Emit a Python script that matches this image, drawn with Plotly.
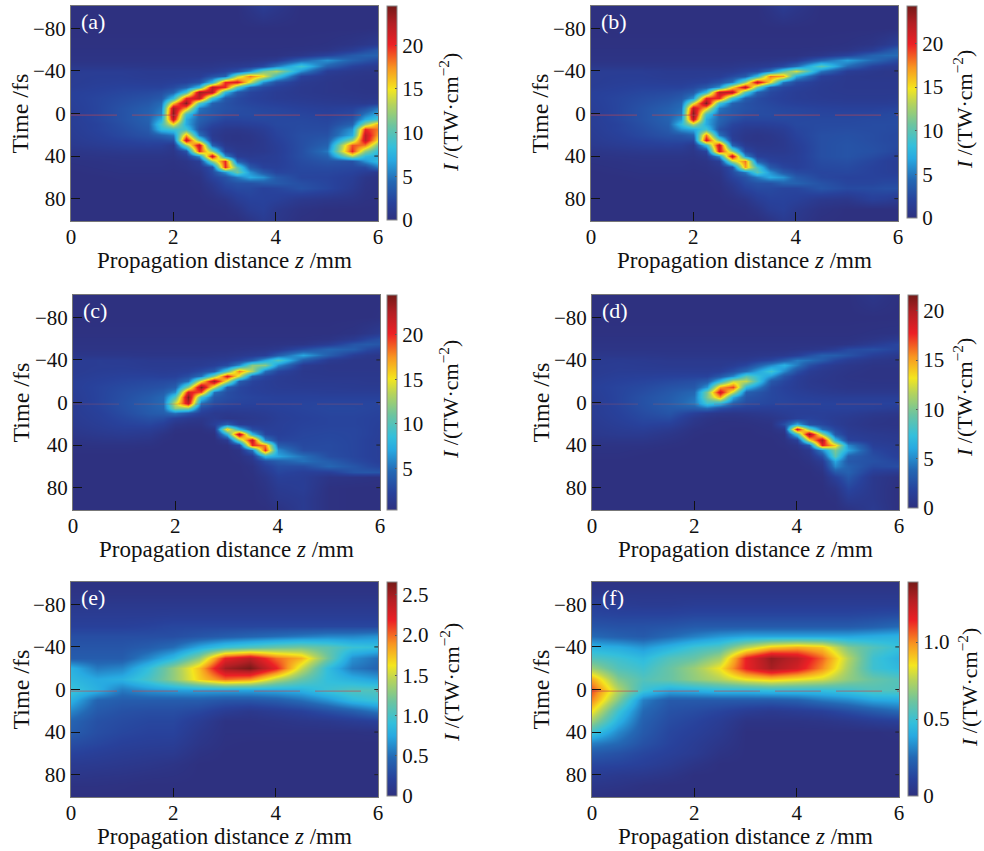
import plotly.graph_objects as go

T_FINE = [-100,-80,-65,-60,-55,-50,-45,-40,-35,-30,-25,-20,-15,-10,-5,0,5,10,15,20,25,30,35,40,45,50,55,60,65,70,80,90,100]
Z_A = [0,.5,1,1.5,1.75,2,2.25,2.5,2.75,3,3.25,3.5,3.75,4,4.5,5,5.5,5.75,6]
Z_D = [0,.5,1,1.5,2,2.25,2.5,2.75,3,3.5,3.75,4,4.25,4.5,4.75,5,5.5,6]
T_COARSE = [-100,-90,-80,-70,-60,-50,-40,-30,-20,-10,0,10,20,30,40,50,60,70,80,90,100]
Z_COARSE = [0,.5,1,1.5,2,2.5,3,3.5,4,4.5,5,5.5,6]

I_A = [
[0,0,0,0,0,0,0,0,0,0,0,.6,1.3,.8,0,0,0,0,0],
[0,0,0,0,0,0,0,0,0,0,0,0,0,0,0,0,0,0,.1],
[.1,.1,.1,.1,.1,.1,.1,.1,.1,.1,.1,.1,.1,.1,.1,.2,.5,.8,1.2],
[.2,.2,.2,.2,.2,.2,.2,.2,.2,.2,.2,.2,.2,.2,.3,.5,1.5,2.5,3.5],
[.3,.3,.3,.3,.3,.3,.3,.3,.3,.3,.3,.3,.3,.3,.8,2,3.5,4,4],
[.4,.4,.4,.4,.4,.4,.4,.4,.4,.5,.5,.6,.8,1.2,4,6,4,3.2,2.5],
[.8,.8,.8,.7,.7,.7,.7,.7,.8,1,1.2,1.5,2.5,5,9,4,2,1.5,1.2],
[1.4,1.4,1.4,1.2,1.2,1.2,1.2,1.2,1.3,2,3,6,11,13,6,1.5,1,.8,.8],
[1.4,1.5,1.5,1.3,1.3,1.3,1.4,1.5,3,4,13,18,15,9,2,1,.7,.6,.6],
[1.4,1.6,1.7,1.6,1.6,1.8,2,3,8,20,21,14,6,3,1.2,.8,.6,.5,.5],
[1.5,1.8,2,2,2,2.5,4,8,22,20,10,4,2.5,1.8,1,.8,.6,.5,.5],
[1.8,2,2.3,2.5,2.8,4,9,23,22,8,3.5,2.2,1.8,1.4,1,.8,.7,.6,.6],
[1.8,2.2,2.6,3,3.5,8,20,22,9,3.5,2.5,2,1.7,1.4,1.2,1,.9,.8,.9],
[1.7,2.2,2.8,3.4,4.5,16,24,10,4,3,2.5,2.2,2,1.8,1.5,1.3,1.2,1.2,1.6],
[1.6,2.2,3,3.8,5,23,17,5,3.5,3,2.7,2.5,2.3,2.2,1.9,1.7,2,3,5],
[1.5,2.2,3,4,5.5,24,9,4.2,3.5,2.8,2.6,2.6,2.5,2.4,2.2,2,2.5,5,7],
[1.5,2.2,3,4,7,22,7,4,3,2.2,2.2,2.3,2.4,2.4,2.4,2.2,3,7,9],
[1.5,2,2.8,3.8,9,15,7,3.5,2.2,1.6,1.6,1.8,2,2.4,2.5,2.4,4,12,17],
[1.4,2,2.6,3.5,8,9,9,3,1.5,.9,.8,1.1,1.5,2.2,2.6,2.6,6,20,18],
[1.3,1.8,2.4,3,4,5,17,5,1.2,.6,.5,.7,1.2,2,2.8,3,7,22,17],
[1.2,1.6,2,2.4,2.5,3,22,11,1.6,.6,.5,.6,1,1.8,2.8,3.5,12,22,15],
[1,1.3,1.6,1.8,1.7,1,12,22,4,1,.7,.7,1,1.6,2.8,4,19,18,11],
[.6,.8,1,1,1,.7,3,20,12,2,1,.9,1,1.5,2.8,5,20,12,8],
[.4,.5,.6,.6,.6,.5,1.5,6,22,6,1.5,1.2,1.4,1.6,2.8,4,13,8,7],
[.2,.3,.4,.4,.4,.3,.6,1.5,12,20,4,1.8,1.5,1.6,2.6,3.2,3,6,8],
[.1,.2,.3,.3,.3,.2,.4,1,3,20,10,3.5,2,1.8,2.4,2.6,2.4,2.5,5],
[0,.1,.2,.2,.2,.1,.2,.6,2.5,6,11,6,3.5,2.2,2.3,2.3,2,1.5,1],
[0,0,.1,.1,.1,.1,.1,.3,2,3,5,7,6,3.5,2.2,2.1,1.6,.7,.3],
[0,0,0,0,0,0,0,.2,1.2,2.5,3,3,3.5,3.5,2.8,2.2,1.4,.5,.2],
[0,0,0,0,0,0,0,.1,.8,2,2.5,2.5,2,2.2,3,2.3,1.2,.4,.2],
[0,0,0,0,0,0,0,0,.2,.6,1.5,2,2,1.8,1,.7,.5,.2,.1],
[0,0,0,0,0,0,0,0,0,.1,.6,1.5,1.8,1,.3,0,0,0,0],
[0,0,0,0,0,0,0,0,0,0,0,.6,1.3,.8,.1,0,0,0,0],
]

I_B = [
[0,0,0,0,0,0,0,0,0,0,0,.5,1.2,.7,0,0,0,0,0],
[0,0,0,0,0,0,0,0,0,0,0,0,0,0,0,0,0,0,.1],
[.1,.1,.1,.1,.1,.1,.1,.1,.1,.1,.1,.1,.1,.1,.1,.2,.5,1,1.8],
[.2,.2,.2,.2,.2,.2,.2,.2,.2,.2,.2,.2,.2,.2,.3,.5,1.5,2.8,4],
[.3,.3,.3,.3,.3,.3,.3,.3,.3,.3,.3,.3,.3,.3,.8,2,4,4.5,4.5],
[.4,.4,.4,.4,.4,.4,.4,.4,.4,.5,.5,.6,.8,1.2,4,6.5,4.5,3.5,2.5],
[.8,.8,.8,.7,.7,.7,.7,.7,.8,1,1.2,1.5,2.5,4.5,10,4.5,2,1.5,1.2],
[1.4,1.4,1.4,1.2,1.2,1.2,1.2,1.2,1.3,2,2.5,5,10,14,5,1.5,1,.8,.8],
[1.4,1.5,1.5,1.3,1.3,1.3,1.4,1.5,2.5,3.5,8,18,17,7,1.8,1,.8,.8,.8],
[1.4,1.6,1.7,1.6,1.6,1.8,2,3,5,12,22,15,5,2.5,1.3,1,1,1,1],
[1.5,1.8,2,2,2,2.4,3.5,6,15,22,11,3.5,2.3,1.8,1.2,1,1,1,1],
[1.8,2,2.3,2.5,2.8,3.5,8,22,22,10,4,2.4,1.9,1.5,1.2,1.1,1.1,1.1,1.1],
[1.8,2.2,2.6,3,3.5,6,20,20,9,3.8,2.6,2.1,1.8,1.5,1.3,1.2,1.2,1.2,1.3],
[1.7,2.2,2.8,3.4,4.2,14,24,9,4,3,2.6,2.3,2,1.8,1.6,1.5,1.5,1.5,1.6],
[1.6,2.2,3,3.8,4.6,22,16,5,3.5,3,2.7,2.5,2.3,2.2,2,1.9,1.9,2,2.1],
[1.5,2.2,3,4,5,24,9,4.2,3.5,2.8,2.6,2.6,2.5,2.4,2.2,2.2,2.3,2.4,2.5],
[1.5,2.2,3,4,6,22,7,4.2,3,2.3,2.3,2.3,2.4,2.4,2.4,2.4,2.5,2.5,2.6],
[1.5,2,2.8,3.8,8,13,7,3.8,2.2,1.7,1.7,1.8,2,2.4,2.5,2.5,2.6,2.6,2.6],
[1.4,2,2.6,3.5,6,7,9,3,1.8,1.1,1,1.2,1.5,2.2,2.6,2.7,2.6,2.6,2.5],
[1.3,1.8,2.4,3,3.2,4,18,5,1.5,.8,.6,.8,1.2,2,2.8,2.9,2.7,2.5,2.4],
[1.2,1.6,2,2.4,2.5,2.5,21,11,1.8,.7,.6,.7,1,1.8,2.8,3,2.7,2.5,2.4],
[1,1.3,1.6,1.8,1.7,1,8,22,4,1.2,.8,.8,1,1.6,2.8,3.1,2.8,2.6,2.4],
[.6,.8,1,1,1,.7,2,21,12,2.5,1.2,1.1,1.1,1.5,2.8,3.1,2.9,2.6,2.2],
[.4,.5,.6,.6,.6,.5,1,6,22,6,1.8,1.5,1.4,1.6,2.8,3.1,2.6,2.2,1.8],
[.2,.3,.4,.4,.4,.3,.5,1.5,13,18,4,2,1.6,1.6,2.6,2.8,2.2,1.8,1.5],
[.1,.2,.3,.3,.3,.2,.3,.8,3,17,9,3.5,2.2,1.8,2.4,2.5,2,1.8,1.5],
[0,.1,.2,.2,.2,.1,.2,.5,2.5,5,10,6,3.5,2.5,2.2,2.3,2,1.8,1.6],
[0,0,.1,.1,.1,.1,.1,.3,2,3,5,7,6,3.5,2.3,2,2,2,2],
[0,0,0,0,0,0,0,.2,1.2,2.5,3,3,4,4,3,2.2,2.2,2.4,2.4],
[0,0,0,0,0,0,0,.1,.8,2,2.5,2.5,2.2,2.2,3.2,2.5,2.6,2.8,2.8],
[0,0,0,0,0,0,0,0,.2,.6,1.5,2,2,1.8,1,.8,1.8,1.6,1.2],
[0,0,0,0,0,0,0,0,0,.1,.6,1.5,1.8,1.1,.3,0,0,0,0],
[0,0,0,0,0,0,0,0,0,0,0,.5,1.2,.8,.1,0,0,0,0],
]

I_C = [
[.3,.3,.3,.3,.3,.3,.3,.3,.3,.3,.3,.3,.3,.3,.3,.3,.3,.3,.3],
[.3,.3,.3,.3,.3,.3,.3,.3,.3,.3,.3,.3,.3,.3,.3,.3,.3,.3,.4],
[.4,.4,.4,.4,.4,.4,.4,.4,.4,.4,.4,.4,.4,.4,.4,.4,.6,1,1.5],
[.5,.5,.5,.5,.5,.5,.5,.5,.5,.5,.5,.5,.5,.5,.5,.7,1.5,2.5,3.2],
[.6,.6,.6,.6,.6,.6,.6,.6,.6,.6,.6,.6,.6,.7,.9,1.8,3.5,3.8,3.5],
[.7,.7,.7,.7,.7,.7,.7,.7,.7,.7,.8,.9,1,1.3,3,4.5,4,2.8,2.2],
[1,1,1,.9,.9,.9,.9,.9,1,1.1,1.3,1.6,2,4,7,4,1.8,1.3,1.1],
[1.6,1.7,1.6,1.4,1.4,1.4,1.4,1.4,1.5,1.7,2.5,4,7,10,4,1.5,1,1,1],
[1.6,1.7,1.7,1.5,1.5,1.5,1.5,1.6,2,3,6,12,12,6,1.5,1,1,1,1],
[1.6,1.8,1.9,1.8,1.7,1.8,2,2.8,4,10,18,13,5,2.5,1.2,1.1,1.1,1.1,1.1],
[1.7,2,2.2,2.2,2.1,2.2,3,5,12,21,14,4,2.5,1.7,1.3,1.2,1.2,1.2,1.2],
[1.9,2.2,2.5,2.7,2.8,3,5,15,23,14,4,2.4,1.9,1.6,1.4,1.4,1.4,1.3,1.3],
[1.9,2.4,2.8,3.1,3.3,4,12,24,14,4,2.6,2.1,1.9,1.7,1.6,1.6,1.5,1.5,1.5],
[1.8,2.4,3,3.5,4,6,21,19,5,3,2.5,2.2,2,1.9,1.9,1.8,1.8,1.8,1.8],
[1.7,2.4,3.1,3.9,4.6,10,24,9,3.6,2.9,2.6,2.4,2.3,2.2,2.2,2.2,2.2,2.2,2.2],
[1.6,2.4,3.2,4.1,4.8,14,22,5,3,2.6,2.4,2.3,2.3,2.3,2.4,2.5,2.5,2.5,2.5],
[1.6,2.3,3.1,4,4.5,12,12,3,2.1,1.9,1.9,1.9,2,2.2,2.4,2.6,2.6,2.5,2.4],
[1.6,2.1,2.9,3.8,4,5,3.5,2,1.4,1.3,1.4,1.5,1.7,2,2.3,2.5,2.5,2.4,2.3],
[1.5,2,2.6,3.2,3,2,1.4,1.1,1.5,1,1.1,1.3,1.5,1.9,2.2,2.4,2.4,2.3,2.2],
[1.4,1.8,2.3,2.5,2,1,.7,.7,2,4,1.8,1.6,1.7,2,2.3,2.4,2.4,2.3,2.1],
[1.2,1.6,1.9,1.8,1.3,.5,.4,.4,1,16,8,3,2,2,2.4,2.5,2.5,2.3,2],
[1,1.3,1.5,1.3,.7,.3,.3,.3,.4,8,23,8,2.5,2.1,2.5,2.6,2.5,2.3,2],
[.7,.9,1,.8,.4,.3,.3,.3,.3,1.5,12,22,6,2.5,2.6,2.7,2.5,2.2,1.9],
[.5,.6,.6,.5,.3,.3,.3,.3,.3,.4,2.5,20,18,4,2.7,2.8,2.5,2.2,2],
[.4,.4,.4,.3,.3,.3,.3,.3,.3,.3,.7,5,20,6,3,2.8,2.5,2.2,2],
[.3,.3,.3,.3,.3,.3,.3,.3,.3,.3,.5,1.5,8,7,5,3,2.5,2.2,2],
[.3,.3,.3,.3,.3,.3,.3,.3,.3,.3,.4,1,3,4,5,4,2.8,2.4,2],
[.3,.3,.3,.3,.3,.3,.3,.3,.3,.3,.3,.6,2,3,3,4.5,3.5,2.8,2.4],
[.3,.3,.3,.3,.3,.3,.3,.3,.3,.3,.3,.5,1.4,2.5,2,2,3.5,3.6,3.5],
[.3,.3,.3,.3,.3,.3,.3,.3,.3,.3,.3,.4,1,2,1.8,.8,.7,.6,.5],
[.3,.3,.3,.3,.3,.3,.3,.3,.3,.3,.3,.3,.7,1.5,1.8,.4,.3,.3,.3],
[.3,.3,.3,.3,.3,.3,.3,.3,.3,.3,.3,.3,.5,1.2,1.5,.4,.3,.3,.3],
[.3,.3,.3,.3,.3,.3,.3,.3,.3,.3,.3,.3,.3,.6,1.5,.4,.3,.3,.3],
]

I_D = [
[0,0,0,0,0,0,0,0,0,0,0,0,0,0,0,0,.6,0],
[0,0,0,0,0,0,0,0,0,0,0,0,0,0,0,0,0,0],
[.1,.1,.1,.1,.1,.1,.1,.1,.1,.1,.1,.1,.1,.1,.1,.1,.2,.3],
[.2,.2,.2,.2,.2,.2,.2,.2,.2,.2,.2,.2,.2,.2,.2,.2,.5,1],
[.3,.3,.3,.3,.3,.3,.3,.3,.3,.3,.3,.3,.3,.3,.3,.5,1.2,2],
[.4,.4,.4,.4,.4,.4,.4,.4,.4,.4,.4,.5,.6,.8,1.3,2.2,2.5,1.8],
[.7,.7,.7,.6,.6,.6,.6,.6,.6,.8,1,1.5,2.5,3.4,3.3,2.7,1.5,.9],
[1,1.1,1,.9,.9,.9,.9,.9,1,2,3.2,4.6,4.2,3.2,2,1.3,.7,.5],
[1.1,1.2,1.1,1,1,1,1,1.3,2,5,6.5,4.5,2.5,1.5,1,.7,.4,.4],
[1.1,1.3,1.3,1.3,1.3,1.3,1.5,2.5,4,8,5,2.5,1.3,.9,.7,.5,.3,.3],
[1.2,1.5,1.6,1.7,1.8,1.8,3,5,9,5.5,2.8,1.5,1,.8,.6,.4,.3,.3],
[1.4,1.7,1.9,2.2,2.5,3.2,7,12,12,3,2,1.3,.9,.7,.6,.5,.4,.4],
[1.5,1.9,2.2,2.7,3,5.5,15,17,7,2.2,1.7,1.3,1,.9,.7,.6,.6,.6],
[1.4,1.9,2.4,3,3.8,10,19,12,3.5,2.1,1.8,1.5,1.3,1.1,1,.9,.9,.9],
[1.3,1.9,2.6,3.2,4.2,10,15,6,2.8,2.1,1.9,1.7,1.6,1.5,1.4,1.4,1.4,1.4],
[1.2,1.9,2.6,3.3,4.5,8,7,3.5,2.4,2,2,1.9,1.9,1.8,1.8,1.8,1.8,1.8],
[1.2,1.8,2.5,3.1,3.3,4,2.5,1.8,1.6,1.5,1.6,1.6,1.6,1.7,1.7,1.7,1.6,1.3],
[1.2,1.7,2.3,2.8,1.6,1,.7,.6,.7,1,1.3,1.5,1.5,1.5,1.4,1.3,.9,.7],
[1.1,1.6,2.1,2.3,.8,.4,.2,.2,.3,.6,1,1.6,1.8,1.5,1.2,1,.6,.4],
[1,1.4,1.8,1.6,.5,.2,.1,.1,.1,.3,2.5,6,2.5,2,1.3,.9,.5,.4],
[.9,1.2,1.4,1,.2,.1,.1,0,0,.2,.9,19,10,4,2,1.1,.7,.6],
[.8,1,1,.6,.1,0,0,0,0,.1,.3,8,21,11,3,1.3,1,.8],
[.5,.6,.6,.3,0,0,0,0,0,0,.2,1.5,13,20,7,1.8,1.2,1],
[.3,.3,.3,.1,0,0,0,0,0,0,.1,.5,3,18,14,5,1.5,1.2],
[.2,.2,.1,0,0,0,0,0,0,0,0,.2,.9,5,10,6,2,1.3],
[.1,.1,0,0,0,0,0,0,0,0,0,.1,.5,2.5,9,3.5,2.4,1.5],
[0,0,0,0,0,0,0,0,0,0,0,0,.3,1.2,6,3,2.6,2],
[0,0,0,0,0,0,0,0,0,0,0,0,.1,.7,5,3.5,2.2,2.4],
[0,0,0,0,0,0,0,0,0,0,0,0,0,.3,3,3.5,1.4,1],
[0,0,0,0,0,0,0,0,0,0,0,0,0,.1,1.6,3,.8,.2],
[0,0,0,0,0,0,0,0,0,0,0,0,0,0,.5,2,.8,0],
[0,0,0,0,0,0,0,0,0,0,0,0,0,0,.1,1.2,.8,0],
[0,0,0,0,0,0,0,0,0,0,0,0,0,0,0,.3,1,0],
]

I_E = [
[.02,.02,.02,.02,.02,.02,.02,.02,.02,.02,.02,.02,.02],
[.05,.05,.05,.05,.05,.05,.05,.05,.05,.05,.05,.05,.05],
[.1,.1,.1,.1,.1,.1,.1,.1,.1,.1,.1,.1,.1],
[.15,.15,.15,.15,.16,.16,.16,.16,.16,.16,.16,.16,.16],
[.2,.2,.2,.22,.25,.25,.25,.25,.25,.25,.25,.25,.25],
[.3,.3,.3,.3,.3,.35,.4,.45,.5,.55,.6,.6,.65],
[.35,.35,.35,.4,.5,.75,.95,1.05,1.15,1.2,1.1,.95,.9],
[.4,.4,.4,.6,.85,1.3,2.2,2.4,2,1.8,1.2,.65,.5],
[.8,.55,.6,.9,1.3,1.75,2.5,2.65,2.2,1.5,.9,.55,.45],
[.85,.75,.8,1,1.3,1.7,2,1.9,1.45,1.15,.9,.8,.7],
[.95,.8,.55,.65,.7,.72,.72,.72,.75,.8,.95,1.05,1.05],
[.8,.45,.4,.4,.4,.4,.35,.35,.4,.5,.65,.85,.95],
[.6,.38,.32,.3,.3,.25,.15,.1,.15,.2,.3,.4,.55],
[.45,.32,.28,.25,.25,.15,.03,.03,.05,.08,.1,.15,.2],
[.4,.3,.25,.22,.22,.1,.02,.02,.02,.02,.02,.02,.03],
[.3,.25,.2,.18,.17,.07,.01,0,0,0,0,0,0],
[.22,.18,.15,.13,.12,.03,0,0,0,0,0,0,0],
[.13,.12,.1,.08,.05,0,0,0,0,0,0,0,0],
[.08,.06,.05,.03,.02,0,0,0,0,0,0,0,0],
[.02,.02,.01,0,0,0,0,0,0,0,0,0,0],
[0,0,0,0,0,0,0,0,0,0,0,0,0],
]

I_F = [
[.02,.02,.02,.02,.02,.02,.02,.02,.02,.02,.02,.02,.02],
[.05,.05,.05,.05,.05,.05,.05,.05,.05,.05,.05,.05,.05],
[.1,.08,.07,.07,.08,.08,.08,.08,.08,.08,.08,.08,.08],
[.13,.12,.12,.12,.13,.13,.13,.13,.13,.13,.13,.14,.15],
[.18,.17,.17,.18,.2,.2,.2,.2,.2,.2,.2,.22,.25],
[.25,.22,.2,.25,.3,.35,.38,.38,.38,.38,.38,.4,.42],
[.42,.4,.35,.42,.5,.55,.75,.9,.95,.9,.65,.55,.48],
[.55,.5,.45,.55,.6,.72,1.15,1.33,1.25,1.05,.75,.5,.42],
[.7,.55,.5,.6,.7,.85,1.15,1.3,1.2,1,.72,.5,.45],
[.95,.65,.55,.6,.68,.75,.85,.9,.85,.8,.68,.6,.55],
[1.08,.75,.5,.4,.42,.45,.45,.47,.47,.47,.5,.55,.55],
[1,.65,.3,.2,.2,.2,.2,.2,.22,.28,.32,.38,.4],
[.85,.5,.25,.17,.15,.12,.08,.06,.08,.1,.15,.2,.25],
[.7,.42,.22,.15,.12,.08,.02,.02,.02,.03,.05,.08,.1],
[.5,.32,.2,.13,.1,.06,0,0,0,0,0,0,.01],
[.3,.25,.17,.12,.08,.04,0,0,0,0,0,0,0],
[.2,.17,.13,.1,.07,.02,0,0,0,0,0,0,0],
[.13,.12,.1,.07,.03,0,0,0,0,0,0,0,0],
[.08,.06,.05,.03,0,0,0,0,0,0,0,0,0],
[.04,.03,.01,0,0,0,0,0,0,0,0,0,0],
[.01,0,0,0,0,0,0,0,0,0,0,0,0],
]

LABELS = ["(a)", "(b)", "(c)", "(d)", "(e)", "(f)"]
ZS = [Z_A, Z_A, Z_A, Z_D, Z_COARSE, Z_COARSE]
TS = [T_FINE, T_FINE, T_FINE, T_FINE, T_COARSE, T_COARSE]
IS = [I_A, I_B, I_C, I_D, I_E, I_F]
ZMIN = [0, 0, 0.3, 0, 0, 0]
ZMAX = [24.5, 24.3, 24.5, 21.6, 2.66, 1.39]
CB_VALS = [[0,5,10,15,20],[0,5,10,15,20],[5,10,15,20],[0,5,10,15,20],
           [0,.5,1,1.5,2,2.5],[0,.5,1]]
CB_TEXT = [["0","5","10","15","20"],["0","5","10","15","20"],["5","10","15","20"],["0","5","10","15","20"],
           ["0","0.5","1.0","1.5","2.0","2.5"],["0","0.5","1.0"]]
# pixel boxes: plot left,right,top,bottom ; colourbar left
BOX = [(71,378,6,221,387),(591,898,6,221,907),(73,380,295,510,387),(592,899,295,510,908),(71,378,582,797,387),(592,899,582,797,908)]
CB_BOTTOM = [220,218,510,508,796,796]
CB_TITLE_POS = [(449,113),(963,110),(449,400),(963,398),(450,683),(968,688)]
XTITLE_Y = [261,261,549,549,836,836]
YTITLE_X = [20,540,20,540,20,540]

COLORS = [[0,"#2e3180"],[.08,"#28419b"],[.18,"#2468b4"],[.28,"#27a9e1"],[.34,"#33bfdc"],[.44,"#6cc4a0"],
          [.54,"#b5d35c"],[.61,"#f4e61e"],[.71,"#f89621"],[.82,"#ec2025"],[.92,"#b21f24"],[1,"#751a18"]]
FONT = "Liberation Serif"
INK = "#111111"
W, H = 984, 851
fig = go.Figure()
annots = []
shapes = []
for i in range(6):
    l, r, t, b, c = BOX[i]
    n = "" if i == 0 else str(i + 1)
    fig.add_trace(go.Heatmap(x=ZS[i], y=TS[i], z=IS[i], xaxis=f"x{n}", yaxis=f"y{n}", zsmooth="best",
        zmin=ZMIN[i], zmax=ZMAX[i], colorscale=COLORS,
        colorbar=dict(x=c/W, xanchor="left", xpad=0, ypad=0, y=1-CB_BOTTOM[i]/H, yanchor="bottom", lenmode="pixels", len=CB_BOTTOM[i]-t,
            thicknessmode="pixels", thickness=10, outlinecolor="#888888", outlinewidth=1, tickmode="array", tickvals=CB_VALS[i], ticktext=CB_TEXT[i],
            ticks="inside", ticklen=2, tickcolor="#555555", tickfont=dict(family=FONT, size=21, color=INK))))
    fig.add_trace(go.Scatter(x=[0,6], y=[1.5,1.5], mode="lines", xaxis=f"x{n}", yaxis=f"y{n}", showlegend=False, hoverinfo="skip",
        line=dict(color="rgba(190,70,80,0.65)" if i in (0,1,4,5) else "rgba(190,90,90,0.3)", width=1, dash="46px,15px")))
    fig.layout[f"xaxis{n}"] = dict(domain=[l/W, r/W], anchor=f"y{n}", range=[0,6], tickvals=[0,2,4,6], ticks="inside", ticklen=9, tickcolor=INK, ticklabelstandoff=-3,
        showline=True, mirror=True, linecolor="#777777", linewidth=1, showgrid=False, zeroline=False, tickfont=dict(family=FONT, size=21, color=INK))
    fig.layout[f"yaxis{n}"] = dict(domain=[1-b/H, 1-t/H], anchor=f"x{n}", range=[101,-101], tickvals=[-80,-40,0,40,80], ticks="inside", ticklen=9, tickcolor=INK,
        showline=True, mirror=True, linecolor="#777777", linewidth=1, showgrid=False, zeroline=False, tickfont=dict(family=FONT, size=21, color=INK))
    annots.append(dict(x=(l+r)/2/W, y=1-XTITLE_Y[i]/H, xref="paper", yref="paper", text="Propagation distance <i>z</i> /mm", showarrow=False,
                       xanchor="center", yanchor="middle", font=dict(family=FONT, size=23, color=INK)))
    annots.append(dict(x=YTITLE_X[i]/W, y=1-(t+b)/2/H, xref="paper", yref="paper", text="Time /fs", showarrow=False, textangle=-90,
                       xanchor="center", yanchor="middle", font=dict(family=FONT, size=24, color=INK)))
    annots.append(dict(x=(l+8)/W, y=1-(t+15)/H, xref="paper", yref="paper", text=LABELS[i], showarrow=False, xanchor="left", yanchor="middle",
                       font=dict(family=FONT, size=22, color="white")))
    tx, ty = CB_TITLE_POS[i]
    annots.append(dict(x=tx/W, y=1-ty/H, xref="paper", yref="paper", text="<i>I</i> /(TW·cm<sup>−2</sup>)", showarrow=False, textangle=-90,
                       xanchor="center", yanchor="middle", font=dict(family=FONT, size=22, color=INK)))
    for tv in [-40,0,40,80]:
        shapes.append(dict(type="line", xref=f"x{n} domain", yref=f"y{n}", x0=0.988, x1=1, y0=tv, y1=tv, line=dict(color="#222222", width=1)))
fig.update_layout(width=W, height=H, margin=dict(l=0,r=0,t=0,b=0,autoexpand=False), autosize=False, paper_bgcolor="white", plot_bgcolor="#2e3180",
                  showlegend=False, annotations=annots, shapes=shapes)
fig.write_html("out.html", config=dict(displayModeBar=False), post_script="document.body.style.margin='0';document.body.style.overflow='hidden';")
